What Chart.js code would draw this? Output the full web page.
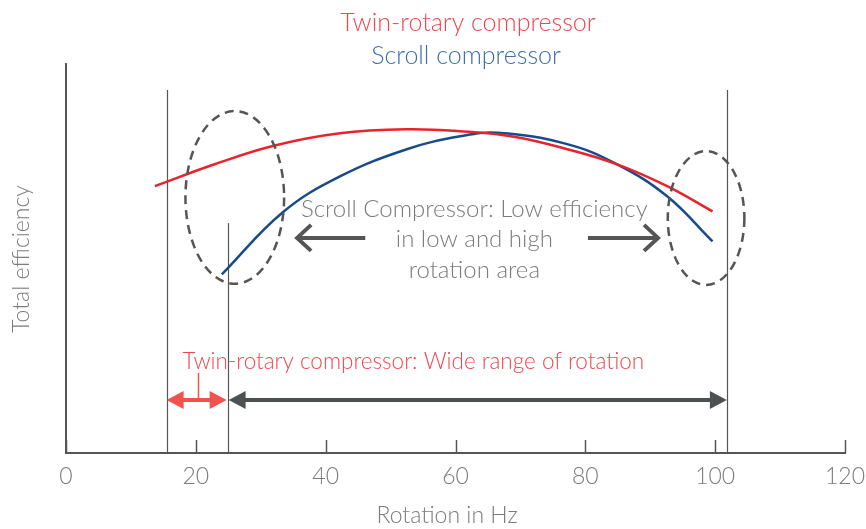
<!DOCTYPE html>
<html>
<head>
<meta charset="utf-8">
<script src="https://cdn.jsdelivr.net/npm/chart.js@4"></script>
<style>
  html, body { margin: 0; padding: 0; background: #fff; }
</style>
</head>
<body>
<canvas id="chart" width="866" height="529"></canvas>
<script>
// --- Données ---
const xTicks = [0, 20, 40, 60, 80, 100, 120];

const twinX = [13.7, 23.0, 32.0, 42.2, 52.5, 60.7, 69.0, 77.2, 84.9, 92.6, 99.6];
const twinY = [68.6, 74.3, 79.0, 82.2, 83.2, 82.7, 81.3, 78.1, 74.2, 68.6, 62.1];

const scrollX = [24.0, 33.4, 42.2, 52.5, 60.7, 66.5, 77.2, 84.9, 92.6, 99.6];
const scrollY = [45.9, 61.9, 71.1, 78.1, 81.4, 82.3, 79.4, 74.2, 66.0, 54.4];

// limites de rotation (Hz) et hauteur des traits verticaux
const limitX = [15.5, 24.9, 101.8];
const limitTop = [93.3, 59.1, 93.3];

// zones entourées : centre x, centre y, demi-largeur (Hz), demi-hauteur
const zoneX = [26.0, 98.6];
const zoneY = [65.7, 60.4];
const zoneRx = [7.6, 5.9];
const zoneRy = [22.2, 17.2];

const lowArrow = [46.1, 35.6];
const highArrow = [80.4, 91.2];
const arrowLevel = 55.3;
const rangeLevel = 13.6;

const noteLines = ["Scroll Compressor: Low efficiency", "in low and high", "rotation area"];
const noteY = [62.7, 55.0, 47.0];
const noteX = 62.9;
const rangeNote = "Twin-rotary compressor: Wide range of rotation";

const FONT = '"Source Sans Pro", Lato, "Open Sans", sans-serif';
const RED = "#e8232b";
const BLUE = "#174b8b";
const GRAY = "#555";
const TEXT = "#7b7b7b";

function toPoints(xs, ys) {
  return xs.map((x, i) => ({ x, y: ys[i] }));
}

function filledHead(ctx, x, y, dir, len, half) {
  ctx.beginPath();
  ctx.moveTo(x, y);
  ctx.lineTo(x - dir * len, y - half);
  ctx.lineTo(x - dir * len, y + half);
  ctx.closePath();
  ctx.fill();
}

function doubleArrow(ctx, x1, x2, y, color) {
  ctx.save();
  ctx.strokeStyle = color;
  ctx.fillStyle = color;
  ctx.lineWidth = 4;
  ctx.beginPath();
  ctx.moveTo(x1 + 10, y);
  ctx.lineTo(x2 - 10, y);
  ctx.stroke();
  filledHead(ctx, x1, y, -1, 17, 9);
  filledHead(ctx, x2, y, 1, 17, 9);
  ctx.restore();
}

function openArrow(ctx, from, to, y) {
  const dir = Math.sign(to - from);
  ctx.save();
  ctx.strokeStyle = GRAY;
  ctx.lineWidth = 4;
  ctx.beginPath();
  ctx.moveTo(from, y);
  ctx.lineTo(to, y);
  ctx.moveTo(to - dir * 14, y - 13);
  ctx.lineTo(to, y);
  ctx.lineTo(to - dir * 14, y + 13);
  ctx.stroke();
  ctx.restore();
}

const decorations = {
  id: "decorations",
  beforeDatasetsDraw(chart) {
    const { ctx, scales: { x, y } } = chart;
    ctx.save();
    ctx.strokeStyle = GRAY;
    ctx.lineWidth = 1.2;
    limitX.forEach((v, i) => {
      const px = Math.round(x.getPixelForValue(v)) + 0.5;
      ctx.beginPath();
      ctx.moveTo(px, y.getPixelForValue(limitTop[i]));
      ctx.lineTo(px, y.bottom);
      ctx.stroke();
    });
    // petites graduations vers l'intérieur
    ctx.lineWidth = 1.5;
    xTicks.forEach((v) => {
      const px = Math.round(x.getPixelForValue(v)) + 0.5;
      ctx.beginPath();
      ctx.moveTo(px, y.bottom);
      ctx.lineTo(px, y.bottom - 13);
      ctx.stroke();
    });
    ctx.restore();
  },
  afterDatasetsDraw(chart) {
    const { ctx, scales: { x, y } } = chart;

    // ellipses pointillées
    ctx.save();
    ctx.strokeStyle = GRAY;
    ctx.lineWidth = 2.5;
    ctx.setLineDash([9, 6]);
    zoneX.forEach((v, i) => {
      const cx = x.getPixelForValue(v);
      const cy = y.getPixelForValue(zoneY[i]);
      const rx = x.getPixelForValue(v + zoneRx[i]) - cx;
      const ry = cy - y.getPixelForValue(zoneY[i] + zoneRy[i]);
      ctx.beginPath();
      ctx.ellipse(cx, cy, rx, ry, 0, 0, Math.PI * 2);
      ctx.stroke();
    });
    ctx.restore();

    const ay = y.getPixelForValue(arrowLevel);
    openArrow(ctx, x.getPixelForValue(lowArrow[0]), x.getPixelForValue(lowArrow[1]), ay);
    openArrow(ctx, x.getPixelForValue(highArrow[0]), x.getPixelForValue(highArrow[1]), ay);

    ctx.save();
    ctx.font = `300 24px ${FONT}`;
    ctx.fillStyle = TEXT;
    ctx.textAlign = "center";
    ctx.textBaseline = "middle";
    noteLines.forEach((t, i) => ctx.fillText(t, x.getPixelForValue(noteX), y.getPixelForValue(noteY[i])));
    ctx.restore();

    // flèches de plage de rotation
    const ry = y.getPixelForValue(rangeLevel);
    const p0 = x.getPixelForValue(limitX[0]);
    const p1 = x.getPixelForValue(limitX[1]);
    const p2 = x.getPixelForValue(limitX[2]);
    doubleArrow(ctx, p0, p1 - 1, ry, "#ef534b");
    doubleArrow(ctx, p1 + 1, p2, ry, "#4d5152");

    ctx.save();
    ctx.strokeStyle = "#ef534b";
    ctx.lineWidth = 1.5;
    const cxp = Math.round(x.getPixelForValue(20.3)) + 0.5;
    ctx.beginPath();
    ctx.moveTo(cxp, ry);
    ctx.lineTo(cxp, y.getPixelForValue(20.6));
    ctx.stroke();
    ctx.font = `300 22.5px ${FONT}`;
    ctx.fillStyle = "#f0474f";
    ctx.textAlign = "center";
    ctx.textBaseline = "middle";
    ctx.fillText(rangeNote, x.getPixelForValue(53.5), y.getPixelForValue(23.4));
    ctx.restore();
  },
  afterDraw(chart) {
    const { ctx } = chart;
    ctx.save();
    ctx.textAlign = "center";
    ctx.textBaseline = "middle";
    ctx.font = `300 25px ${FONT}`;
    ctx.fillStyle = "#f0474f";
    ctx.fillText("Twin-rotary compressor", 468, 23);
    ctx.fillStyle = "#3e6ea8";
    ctx.fillText("Scroll compressor", 466, 56);

    ctx.fillStyle = TEXT;
    ctx.font = `300 23px ${FONT}`;
    ctx.fillText("Rotation in Hz", 447, 516);
    ctx.translate(22, 259);
    ctx.rotate(-Math.PI / 2);
    ctx.fillText("Total efficiency", 0, 0);
    ctx.restore();
  },
};

new Chart(document.getElementById("chart"), {
  type: "line",
  data: {
    datasets: [
      { label: "Twin-rotary compressor", data: toPoints(twinX, twinY), borderColor: RED, borderWidth: 2.5, pointRadius: 0, tension: 0.4, fill: false },
      { label: "Scroll compressor", data: toPoints(scrollX, scrollY), borderColor: BLUE, borderWidth: 2.5, pointRadius: 0, tension: 0.4, fill: false },
    ],
  },
  options: {
    responsive: false,
    animation: false,
    events: [],
    layout: { padding: { top: 64, right: 21, left: 0, bottom: 0 } },
    plugins: { legend: { display: false }, tooltip: { enabled: false } },
    scales: {
      x: {
        type: "linear",
        min: 0,
        max: 120,
        grid: { display: false, drawTicks: false },
        border: { color: GRAY, width: 2 },
        ticks: { stepSize: 20, autoSkip: false, maxRotation: 0, color: TEXT, padding: 10, font: { family: FONT, size: 23, weight: "300" } },
        afterFit: (s) => { s.height = 76; s.paddingLeft = 0; s.paddingRight = 0; },
      },
      y: {
        min: 0,
        max: 100,
        grid: { display: false, drawTicks: false },
        border: { color: GRAY, width: 2 },
        ticks: { display: false },
        afterFit: (s) => { s.width = 66; s.paddingTop = 0; s.paddingBottom = 0; },
      },
    },
  },
  plugins: [decorations],
});
</script>
</body>
</html>
